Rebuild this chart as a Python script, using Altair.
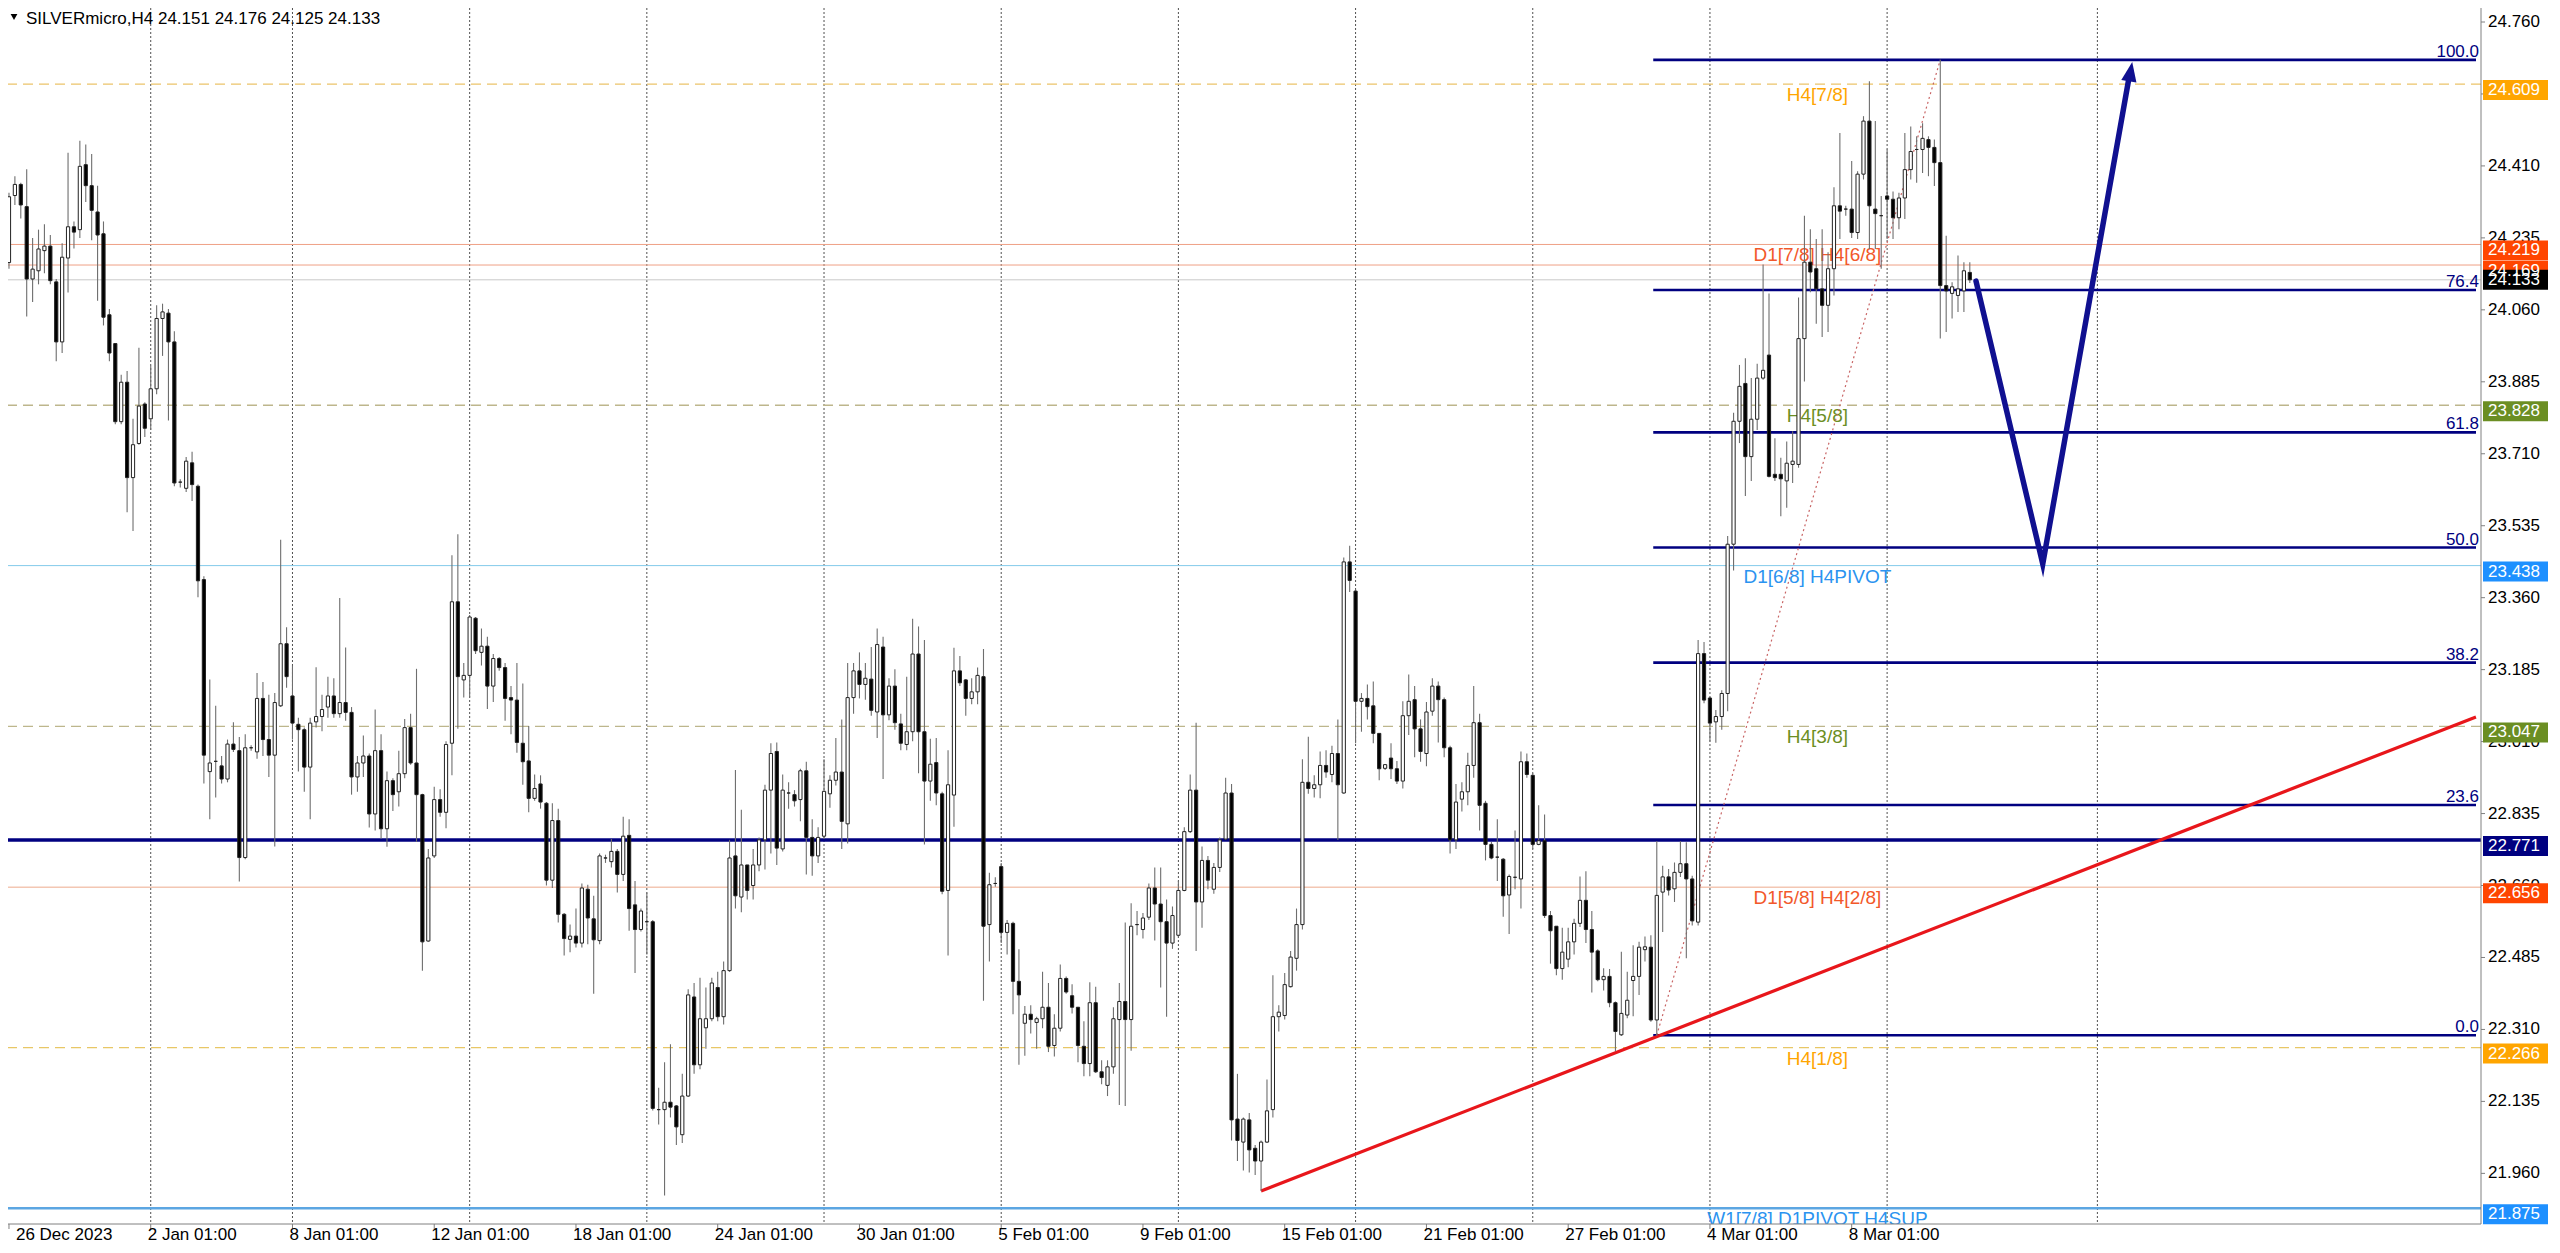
import altair as alt
import pandas as pd

# ---------------- data ----------------
OPEN = [24.175,24.338,24.365,24.311,24.135,24.155,24.204,24.215,24.128,23.982,
24.186,24.262,24.255,24.413,24.362,24.298,24.245,24.048,23.978,23.788,
23.884,23.652,23.735,23.831,23.795,23.868,24.039,24.052,23.982,23.641,
23.626,23.688,23.631,23.404,22.937,22.962,22.951,22.919,23.004,22.988,
22.728,22.995,22.985,23.115,23.015,22.977,23.097,23.248,23.121,23.052,
23.039,22.948,23.058,23.071,23.094,23.121,23.078,23.105,23.081,22.924,
22.958,22.975,22.834,22.988,22.798,22.915,22.888,22.932,23.044,22.958,
22.881,22.525,22.732,22.869,22.838,23.006,23.350,23.160,23.171,23.310,
23.227,23.242,23.145,23.212,23.190,23.117,23.111,23.006,22.963,22.872,
22.907,22.860,22.673,22.818,22.590,22.529,22.537,22.520,22.651,22.579,
22.526,22.727,22.718,22.743,22.687,22.782,22.613,22.553,22.572,22.572,
22.115,22.115,22.133,22.124,22.054,22.148,22.389,22.224,22.314,22.336,
22.412,22.341,22.453,22.732,22.632,22.710,22.660,22.710,22.771,22.892,
22.986,22.749,22.885,22.881,22.869,22.939,22.777,22.732,22.780,22.883,
22.916,22.936,22.810,23.117,23.182,23.149,23.162,23.082,23.240,23.075,
23.145,23.053,23.003,23.034,23.223,23.034,22.914,22.959,22.883,22.648,
22.880,23.182,23.160,23.115,23.131,23.168,22.565,22.665,22.706,22.546,
22.568,22.427,22.325,22.347,22.327,22.336,22.364,22.271,22.313,22.434,
22.392,22.364,22.269,22.227,22.375,22.207,22.174,22.219,22.334,22.378,
22.334,22.565,22.553,22.583,22.654,22.615,22.572,22.520,22.539,22.648,
22.791,22.892,22.620,22.721,22.651,22.704,22.773,22.885,22.092,22.036,
22.090,22.021,21.990,22.036,22.115,22.341,22.344,22.414,22.483,22.565,
22.911,22.896,22.905,22.952,22.930,22.981,22.885,23.447,23.376,23.108,
23.115,23.097,23.030,22.945,22.970,22.944,22.914,23.073,23.112,23.041,
22.981,23.084,23.145,23.112,22.995,22.771,22.870,22.888,22.952,23.056,
22.860,22.760,22.729,22.724,22.637,22.680,22.676,22.961,22.928,22.760,
22.769,22.587,22.561,22.458,22.481,22.523,22.568,22.624,22.553,22.501,
22.431,22.439,22.375,22.297,22.345,22.429,22.439,22.504,22.510,22.333,
22.644,22.681,22.652,22.692,22.713,22.676,22.571,23.224,23.116,23.058,
23.071,23.127,23.490,23.789,23.881,23.703,23.794,23.894,23.950,23.660,
23.660,23.644,23.684,23.684,23.990,24.176,24.160,24.111,24.071,24.160,
24.313,24.305,24.305,24.248,24.390,24.519,24.305,24.289,24.337,24.329,
24.284,24.332,24.401,24.450,24.450,24.474,24.455,24.418,24.119,24.100,
24.095,24.106,24.151]

HIGH = [24.345,24.385,24.369,24.402,24.235,24.255,24.268,24.242,24.135,24.222,
24.442,24.275,24.471,24.462,24.439,24.362,24.275,24.062,23.978,23.902,
23.911,23.795,23.968,23.835,23.924,24.071,24.075,24.062,24.008,23.648,
23.702,23.715,23.635,23.412,23.161,23.097,22.975,23.015,23.057,23.021,
23.028,23.001,23.177,23.155,23.124,23.128,23.501,23.288,23.195,23.068,
23.044,23.068,23.191,23.124,23.168,23.164,23.359,23.239,23.094,22.975,
23.025,22.981,23.088,23.028,22.937,22.921,22.988,23.065,23.078,23.187,
22.883,22.749,22.900,22.894,23.011,23.463,23.514,23.201,23.318,23.313,
23.285,23.265,23.223,23.216,23.201,23.145,23.201,23.151,23.048,22.930,
22.928,22.863,22.860,22.847,22.593,22.565,22.604,22.665,22.662,22.635,
22.738,22.735,22.773,22.749,22.827,22.821,22.671,22.604,22.643,22.576,
22.168,22.230,22.274,22.126,22.202,22.408,22.423,22.436,22.412,22.436,
22.450,22.475,22.771,22.941,22.844,22.710,22.749,22.777,22.905,23.006,
23.008,22.930,22.911,22.892,22.944,22.961,22.821,22.802,22.967,22.928,
23.019,23.064,23.201,23.201,23.227,23.201,23.240,23.285,23.265,23.164,
23.186,23.078,23.168,23.309,23.290,23.257,23.017,23.019,22.888,22.989,
23.238,23.218,23.162,23.164,23.190,23.235,22.691,22.680,22.715,22.576,
22.572,22.505,22.367,22.369,22.341,22.450,22.423,22.347,22.468,22.439,
22.420,22.364,22.330,22.425,22.414,22.235,22.235,22.364,22.423,22.570,
22.617,22.598,22.593,22.665,22.704,22.704,22.626,22.609,22.671,22.802,
22.930,23.056,22.755,22.732,22.715,22.777,22.922,22.907,22.202,22.096,
22.107,22.029,22.040,22.188,22.442,22.369,22.447,22.501,22.604,22.967,
23.022,22.928,22.986,22.989,23.000,23.064,23.458,23.486,23.380,23.128,
23.149,23.156,23.030,22.955,23.006,22.963,23.108,23.173,23.145,23.064,
23.106,23.164,23.156,23.117,23.000,22.907,22.911,22.983,23.145,23.078,
22.866,22.766,22.821,22.727,22.687,22.794,22.986,22.981,22.933,22.855,
22.833,22.598,22.561,22.557,22.557,22.579,22.682,22.695,22.598,22.505,
22.459,22.457,22.378,22.499,22.450,22.515,22.523,22.536,22.539,22.768,
22.708,22.700,22.716,22.768,22.765,22.684,23.257,23.252,23.119,23.087,
23.135,23.510,23.810,23.926,23.942,23.894,23.929,24.170,24.100,23.748,
23.700,23.740,23.765,24.090,24.289,24.256,24.232,24.256,24.200,24.358,
24.490,24.313,24.422,24.397,24.531,24.616,24.519,24.337,24.450,24.348,
24.345,24.490,24.506,24.482,24.514,24.482,24.474,24.668,24.240,24.127,
24.192,24.176,24.176]

LOW = [24.160,24.315,24.282,24.044,24.079,24.122,24.149,24.122,23.935,23.955,
24.102,24.209,24.235,24.322,24.229,24.082,24.022,23.935,23.782,23.782,
23.568,23.522,23.732,23.751,23.768,23.855,23.948,23.791,23.631,23.628,
23.617,23.595,23.361,22.908,22.821,22.874,22.908,22.911,22.985,22.670,
22.724,22.988,22.968,22.975,22.924,22.755,23.094,23.141,23.015,22.937,
22.888,22.821,23.044,23.035,23.068,23.068,23.068,23.061,22.881,22.888,
22.924,22.801,22.794,22.774,22.754,22.841,22.852,22.921,22.954,22.766,
22.453,22.523,22.727,22.827,22.799,22.928,23.041,23.117,23.117,23.223,
23.195,23.089,23.106,23.182,23.061,23.028,22.983,22.905,22.838,22.866,
22.847,22.660,22.654,22.570,22.490,22.498,22.509,22.509,22.517,22.397,
22.517,22.715,22.704,22.643,22.671,22.550,22.447,22.548,22.492,22.113,
22.079,21.906,22.096,22.029,22.034,22.146,22.202,22.213,22.263,22.330,
22.330,22.322,22.450,22.604,22.595,22.626,22.626,22.695,22.699,22.738,
22.710,22.743,22.847,22.852,22.816,22.687,22.684,22.715,22.773,22.849,
22.903,22.749,22.762,23.078,23.115,23.112,23.073,23.019,22.919,23.062,
23.039,22.989,22.989,23.011,22.933,22.760,22.866,22.855,22.639,22.490,
22.803,23.145,23.073,23.101,23.101,22.380,22.475,22.657,22.520,22.492,
22.347,22.224,22.246,22.300,22.263,22.313,22.255,22.244,22.305,22.397,
22.349,22.230,22.196,22.196,22.204,22.177,22.148,22.202,22.126,22.124,
22.258,22.539,22.531,22.576,22.526,22.412,22.341,22.506,22.534,22.646,
22.788,22.501,22.557,22.651,22.640,22.693,22.771,22.040,21.990,21.967,
21.962,21.956,21.917,22.034,22.096,22.305,22.334,22.412,22.453,22.553,
22.883,22.874,22.872,22.922,22.911,22.771,22.883,23.374,23.006,23.034,
23.064,23.006,22.916,22.941,22.919,22.907,22.896,23.026,22.972,22.961,
22.950,23.073,23.008,22.972,22.738,22.749,22.840,22.855,22.922,22.794,
22.721,22.724,22.671,22.584,22.542,22.651,22.604,22.922,22.749,22.758,
22.581,22.470,22.442,22.431,22.461,22.492,22.559,22.520,22.400,22.427,
22.405,22.364,22.257,22.294,22.337,22.342,22.394,22.475,22.329,22.294,
22.547,22.636,22.620,22.681,22.483,22.563,22.563,23.103,23.010,23.007,
23.039,23.084,23.426,23.736,23.607,23.644,23.768,23.890,23.652,23.644,
23.558,23.579,23.639,23.676,23.886,24.103,24.026,23.994,24.006,24.095,
24.232,24.289,24.235,24.232,24.377,24.208,24.208,24.160,24.232,24.232,
24.256,24.281,24.377,24.369,24.393,24.385,24.361,23.990,24.006,24.039,
24.055,24.055,24.125]

CLOSE = [24.335,24.365,24.315,24.135,24.159,24.208,24.215,24.131,23.982,24.188,
24.262,24.249,24.409,24.362,24.302,24.242,24.042,23.955,23.788,23.884,
23.652,23.732,23.826,23.772,23.868,24.039,24.055,23.982,23.639,23.641,
23.692,23.635,23.401,22.977,22.958,22.962,22.919,23.004,22.991,22.728,
22.995,22.995,23.115,23.015,22.977,23.105,23.248,23.168,23.055,23.039,
22.948,23.055,23.071,23.088,23.121,23.078,23.105,23.081,22.924,22.958,
22.975,22.834,22.988,22.798,22.915,22.881,22.932,23.044,22.958,22.881,
22.523,22.727,22.869,22.838,23.003,23.350,23.168,23.171,23.313,23.231,
23.242,23.145,23.212,23.190,23.115,23.111,23.008,22.961,22.872,22.896,
22.863,22.673,22.818,22.590,22.531,22.537,22.520,22.654,22.581,22.528,
22.732,22.727,22.743,22.687,22.780,22.604,22.553,22.598,22.572,22.118,
22.115,22.133,22.121,22.073,22.148,22.394,22.224,22.336,22.336,22.423,
22.341,22.453,22.727,22.635,22.710,22.648,22.710,22.771,22.892,22.981,
22.751,22.892,22.885,22.866,22.939,22.777,22.732,22.777,22.889,22.916,
22.936,22.816,23.117,23.182,23.149,23.164,23.086,23.246,23.075,23.145,
23.056,23.006,23.034,23.223,23.034,22.914,22.955,22.885,22.646,22.905,
23.182,23.153,23.115,23.131,23.171,22.561,22.662,22.665,22.546,22.568,
22.427,22.394,22.347,22.334,22.336,22.364,22.269,22.313,22.434,22.401,
22.364,22.271,22.227,22.375,22.207,22.193,22.219,22.336,22.378,22.334,
22.561,22.565,22.581,22.654,22.615,22.572,22.520,22.587,22.648,22.791,
22.892,22.620,22.721,22.673,22.704,22.771,22.885,22.090,22.040,22.092,
22.017,21.990,22.036,22.112,22.341,22.352,22.419,22.486,22.565,22.911,
22.896,22.905,22.952,22.936,22.981,22.905,23.447,23.402,23.108,23.115,
23.095,23.030,22.944,22.954,22.944,22.914,23.073,23.108,23.041,22.986,
23.082,23.145,23.112,22.995,22.771,22.863,22.888,22.952,23.056,22.855,
22.760,22.727,22.729,22.635,22.682,22.680,22.961,22.930,22.760,22.769,
22.587,22.550,22.458,22.498,22.523,22.568,22.624,22.553,22.498,22.431,
22.439,22.375,22.305,22.349,22.381,22.439,22.510,22.511,22.333,22.636,
22.681,22.649,22.692,22.713,22.676,22.574,23.224,23.111,23.055,23.071,
23.127,23.490,23.789,23.874,23.703,23.794,23.894,23.913,23.655,23.652,
23.649,23.687,23.692,23.990,24.176,24.152,24.111,24.071,24.160,24.313,
24.300,24.305,24.248,24.390,24.519,24.313,24.294,24.289,24.329,24.284,
24.332,24.401,24.445,24.450,24.477,24.455,24.418,24.119,24.106,24.116,
24.111,24.155,24.133]

SYMBOL = "SILVERmicro,H4"

DATE_BARS = [0, 24, 48, 72, 96, 120, 144, 168, 192, 216, 240, 264, 288, 312]
DATE_LABELS = ["26 Dec 2023", "2 Jan 01:00", "8 Jan 01:00", "12 Jan 01:00", "18 Jan 01:00",
               "24 Jan 01:00", "30 Jan 01:00", "5 Feb 01:00", "9 Feb 01:00", "15 Feb 01:00",
               "21 Feb 01:00", "27 Feb 01:00", "4 Mar 01:00", "8 Mar 01:00"]
GRID_BARS = [24, 48, 78, 108, 138, 168, 198, 228, 258, 288, 318, 353.6]

PRICE_TICKS = [21.960, 22.135, 22.310, 22.485, 22.660, 22.835, 23.010, 23.185, 23.360,
               23.535, 23.710, 23.885, 24.060, 24.235, 24.410, 24.585, 24.760]

SOLID_LEVELS = [24.219, 24.169, 24.133, 23.438, 22.656, 22.771, 21.875]
DASHED_LEVELS = [24.609, 23.828, 23.047, 22.266]

LEVEL_TEXTS = ["H4[7/8]", "D1[7/8] H4[6/8]", "H4[5/8]", "D1[6/8] H4PIVOT",
               "H4[3/8]", "D1[5/8] H4[2/8]", "H4[1/8]", "W1[7/8] D1PIVOT H4SUP"]
LEVEL_TEXT_PRICES = [24.609, 24.219, 23.828, 23.438, 23.047, 22.656, 22.266, 21.875]
LEVEL_TEXT_BAR = 306.2

BOX_PRICES = [24.169, 24.609, 24.219, 24.133, 23.828, 23.438, 23.047, 22.771, 22.656, 22.266, 21.875]

FIB_LOW, FIB_HIGH = 22.296, 24.668
FIB_LOW_BAR, FIB_HIGH_BAR = 279, 327
FIB_START_BAR = 278.4
FIB_RATIOS = [0.0, 0.236, 0.382, 0.5, 0.618, 0.764, 1.0]
FIB_NAMES = ["0.0", "23.6", "38.2", "50.0", "61.8", "76.4", "100.0"]

TREND_BARS = [212, 417.7]
TREND_PRICES = [21.917, 23.07]

ARROW_BARS = [333.05, 344.35, 358.9]
ARROW_PRICES = [24.130, 23.442, 24.620]
ARROW_HEAD = (359.2, 24.638)

# ---------------- layout ----------------
W, H = 2481, 1224
X0, PX_BAR = 4.0, 5.93
PPU, P_REF, Y_REF = 411.2, 24.760, 22.0
FONT = "Liberation Sans"


def bar_at(px):
    return (px - X0) / PX_BAR


def price_at(py):
    return P_REF - (py - Y_REF) / PPU


XS = alt.Scale(domain=[bar_at(0), bar_at(W)], nice=False, zero=False)
YS = alt.Scale(domain=[price_at(H), price_at(0)], nice=False, zero=False)


def X(f):
    return alt.X(f, scale=XS, axis=None, title=None)


def Y(f):
    return alt.Y(f, scale=YS, axis=None, title=None)


ORANGE = "#FFA500"
ORANGERED = "#FF4500"
OLIVE = "#6B8E23"
DODGER = "#1E90FF"
NAVY = "#000080"

grid = alt.Chart(pd.DataFrame({"i": GRID_BARS})).mark_rule(
    color="#505050", strokeDash=[2, 2], strokeWidth=1).encode(x=X("i:Q"))

solid_style = {24.219: ("#EFA085", 1), 24.169: ("#EFA085", 1), 24.133: ("#C8C8C8", 1),
               23.438: ("#84CBEA", 1), 22.656: ("#EDAA8C", 1), 22.771: (NAVY, 3.5),
               21.875: ("#5CA6E2", 2.5)}
sdf = pd.DataFrame({"p": SOLID_LEVELS,
                    "c": [solid_style[p][0] for p in SOLID_LEVELS],
                    "w": [solid_style[p][1] for p in SOLID_LEVELS]})
solid = alt.Chart(sdf).mark_rule().encode(
    y=Y("p:Q"), color=alt.Color("c:N", scale=None), strokeWidth=alt.StrokeWidth("w:Q", scale=None))

dashed_col = {24.609: "#EBC46A", 23.828: "#BDB68C", 23.047: "#BDB68C", 22.266: "#E8C766"}
ddf = pd.DataFrame({"p": DASHED_LEVELS, "c": [dashed_col[p] for p in DASHED_LEVELS]})
dashed = alt.Chart(ddf).mark_rule(strokeDash=[10, 6], strokeWidth=1.3).encode(
    y=Y("p:Q"), color=alt.Color("c:N", scale=None))

txt_col = [ORANGE, "#F2582A", OLIVE, "#2B93F0", OLIVE, "#F2582A", ORANGE, "#2B93F0"]
tdf = pd.DataFrame({"t": LEVEL_TEXTS, "p": LEVEL_TEXT_PRICES, "c": txt_col, "i": LEVEL_TEXT_BAR})
level_text = alt.Chart(tdf).mark_text(font=FONT, fontSize=19, align="center",
                                      baseline="middle", dy=11, clip=True).encode(
    x=X("i:Q"), y=Y("p:Q"), text="t:N", color=alt.Color("c:N", scale=None))

fib_p = [FIB_LOW + r * (FIB_HIGH - FIB_LOW) for r in FIB_RATIOS]
fdf = pd.DataFrame({"p": fib_p, "n": FIB_NAMES, "i": FIB_START_BAR, "i2": bar_at(W)})
fib_lines = alt.Chart(fdf).mark_rule(color=NAVY, strokeWidth=2.6).encode(
    x=X("i:Q"), x2="i2:Q", y=Y("p:Q"))
fib_text = alt.Chart(fdf).mark_text(font=FONT, fontSize=17, align="right",
                                    baseline="alphabetic", dy=-3, color=NAVY).encode(
    x=alt.value(W - 2), y=Y("p:Q"), text="n:N")

diag = alt.Chart(pd.DataFrame({"i": [FIB_LOW_BAR, FIB_HIGH_BAR], "p": [FIB_LOW, FIB_HIGH]})).mark_line(
    color="#C86464", strokeDash=[2, 3], strokeWidth=1.2).encode(x=X("i:Q"), y=Y("p:Q"))

trend = alt.Chart(pd.DataFrame({"i": TREND_BARS, "p": TREND_PRICES})).mark_line(
    color="#E8161B", strokeWidth=3.2, clip=True).encode(x=X("i:Q"), y=Y("p:Q"))

cdf = pd.DataFrame({"i": list(range(len(CLOSE))), "o": OPEN, "h": HIGH, "l": LOW, "c": CLOSE})
cdf["h"] = cdf[["h", "o", "c"]].max(axis=1)
cdf["l"] = cdf[["l", "o", "c"]].min(axis=1)
cdf["fill"] = ["#FFFFFF" if c > o else "#000000" for o, c in zip(cdf["o"], cdf["c"])]
wicks = alt.Chart(cdf).mark_rule(color="#6E6E6E", strokeWidth=1.1, clip=True).encode(
    x=X("i:Q"), y=Y("l:Q"), y2="h:Q")
bodies = alt.Chart(cdf).mark_bar(size=3.2, stroke="#222222", strokeWidth=1, clip=True).encode(
    x=X("i:Q"), y=Y("o:Q"), y2="c:Q", fill=alt.Fill("fill:N", scale=None))

adf = pd.DataFrame({"i": ARROW_BARS, "p": ARROW_PRICES, "k": [0, 1, 2]})
arrow = alt.Chart(adf).mark_line(color="#101090", strokeWidth=5.5, strokeJoin="miter",
                                 strokeMiterLimit=10, strokeCap="round").encode(
    x=X("i:Q"), y=Y("p:Q"), order="k:Q")
head = alt.Chart(pd.DataFrame({"i": [ARROW_HEAD[0]], "p": [ARROW_HEAD[1]]})).mark_point(
    shape="M0,-1L0.75,0.9L-0.75,0.9Z", size=420, angle=10, filled=True, opacity=1,
    color="#101090", strokeWidth=0).encode(x=X("i:Q"), y=Y("p:Q"))

one = pd.DataFrame({"a": [0]})
right_axis = alt.Chart(one).mark_rule(color="#808080").encode(
    x=alt.value(W), y=alt.value(0), y2=alt.value(H))
bottom_axis = alt.Chart(one).mark_rule(color="#808080").encode(
    x=alt.value(0), x2=alt.value(W), y=alt.value(H))
left_edge = alt.Chart(one).mark_rule(color="#8A8A8A", strokeWidth=3).encode(
    x=alt.value(1.5), y=alt.value(0), y2=alt.value(H))

ydf = pd.DataFrame({"v": PRICE_TICKS, "t": [f"{v:.3f}" for v in PRICE_TICKS]})
y_ticks = alt.Chart(ydf).mark_rule(color="#808080").encode(
    y=Y("v:Q"), x=alt.value(W), x2=alt.value(W + 4))
y_labels = alt.Chart(ydf).mark_text(font=FONT, fontSize=17, align="left", baseline="middle",
                                    color="#000000").encode(
    y=Y("v:Q"), x=alt.value(W + 7), text="t:N")

# first label is nudged right so it stays inside the visible page area
xdf = pd.DataFrame({"i": DATE_BARS, "t": DATE_LABELS,
                    "dx": [7] + [-3] * (len(DATE_BARS) - 1)})
xdf["ix"] = xdf["i"] + xdf["dx"] / PX_BAR
x_ticks = alt.Chart(xdf).mark_rule(color="#808080").encode(
    x=X("i:Q"), y=alt.value(H), y2=alt.value(H + 5))
x_labels = alt.Chart(xdf).mark_text(font=FONT, fontSize=17, align="left", baseline="middle",
                                    color="#000000").encode(
    x=X("ix:Q"), y=alt.value(H + 11), text="t:N")

box_col = {24.609: ORANGE, 24.219: ORANGERED, 24.169: ORANGERED, 24.133: "#000000",
           23.828: OLIVE, 23.438: DODGER, 23.047: OLIVE, 22.771: NAVY, 22.656: ORANGERED,
           22.266: ORANGE, 21.875: DODGER}
off = [0 if p == CLOSE[-1] else 6 for p in BOX_PRICES]
bdf = pd.DataFrame({"p": BOX_PRICES, "c": [box_col[p] for p in BOX_PRICES],
                    "t": [f"{p:.3f}" for p in BOX_PRICES], "off": off})
bdf["top"] = bdf["p"] - (bdf["off"] - 10) / PPU
bdf["bot"] = bdf["p"] - (bdf["off"] + 10) / PPU
bdf["mid"] = bdf["p"] - bdf["off"] / PPU
boxes = alt.Chart(bdf).mark_rect().encode(
    x=alt.value(W + 2), x2=alt.value(W + 67), y=Y("top:Q"), y2="bot:Q",
    color=alt.Color("c:N", scale=None))
box_text = alt.Chart(bdf).mark_text(font=FONT, fontSize=17, align="left", baseline="middle",
                                    color="#FFFFFF").encode(
    x=alt.value(W + 7), y=Y("mid:Q"), text="t:N")

title_str = f"{SYMBOL}  {OPEN[-1]:.3f} {HIGH[-1]:.3f} {LOW[-1]:.3f} {CLOSE[-1]:.3f}"
tri = alt.Chart(one).mark_point(shape="triangle-down", filled=True, color="#000000",
                                size=45, opacity=1).encode(x=alt.value(14), y=alt.value(17))
title = alt.Chart(pd.DataFrame({"t": [title_str]})).mark_text(
    font=FONT, fontSize=17, align="left", baseline="middle", color="#000000").encode(
    x=alt.value(26), y=alt.value(19), text="t:N")

chart = alt.layer(
    grid, solid, dashed, level_text, fib_lines, fib_text, diag, trend,
    wicks, bodies, arrow, head,
    right_axis, bottom_axis, left_edge, y_ticks, y_labels, x_ticks, x_labels,
    boxes, box_text, tri, title
).properties(
    width=W, height=H,
    padding={"left": -8, "top": -8, "right": 71, "bottom": 22},
    autosize=alt.AutoSizeParams(type="none"),
    background="#FFFFFF",
).configure_view(stroke=None)

chart.save("out.html", embed_options={"renderer": "svg", "actions": False})
